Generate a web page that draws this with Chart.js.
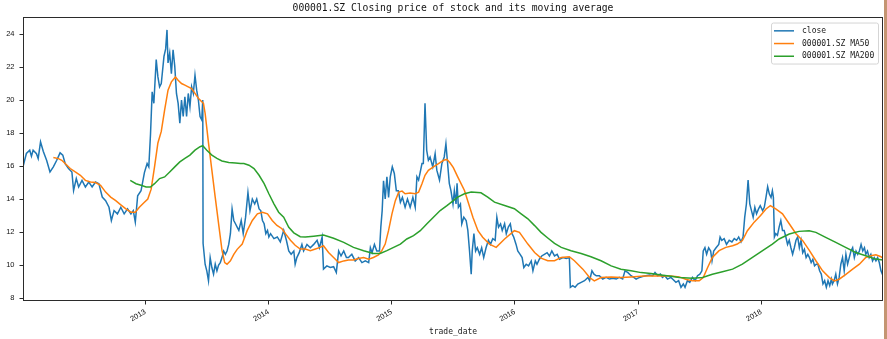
<!DOCTYPE html>
<html>
<head>
<meta charset="utf-8">
<title>000001.SZ close and moving averages</title>
<script src="https://cdn.jsdelivr.net/npm/chart.js@4.4.1/dist/chart.umd.min.js"></script>
<style>
  html, body { margin: 0; padding: 0; background: #fff; }
  .wrap { display: flex; width: 887px; height: 339px; }
  .edge { width: 3px; height: 339px; background: #c49572; }
</style>
</head>
<body>
<div class="wrap">
  <canvas id="price-chart" width="884" height="339"></canvas>
  <div class="edge"></div>
</div>
<script>
// daily close, sampled
const closeDates = [
  '2012-01-04','2012-01-14','2012-01-24','2012-01-29','2012-02-03','2012-02-13','2012-02-18','2012-02-25','2012-03-04','2012-03-14',
  '2012-03-24','2012-04-03','2012-04-13','2012-04-23','2012-05-01','2012-05-08','2012-05-18','2012-05-28','2012-06-02','2012-06-10',
  '2012-06-17','2012-06-27','2012-07-07','2012-07-17','2012-07-27','2012-08-06','2012-08-16','2012-08-26','2012-09-05','2012-09-15',
  '2012-09-22','2012-09-30','2012-10-10','2012-10-20','2012-10-30','2012-11-09','2012-11-19','2012-11-26','2012-12-02','2012-12-09',
  '2012-12-19','2012-12-29',
  '2013-01-06','2013-01-11','2013-01-16','2013-01-21','2013-01-26','2013-02-02','2013-02-07','2013-02-12','2013-02-17','2013-02-25',
  '2013-03-02','2013-03-06','2013-03-09','2013-03-14','2013-03-19','2013-03-24','2013-03-29','2013-04-03','2013-04-08','2013-04-13',
  '2013-04-18','2013-04-23','2013-04-28','2013-05-03','2013-05-08','2013-05-13','2013-05-18','2013-05-23','2013-05-28','2013-06-02',
  '2013-06-07','2013-06-12','2013-06-17','2013-06-20','2013-06-21','2013-06-27','2013-07-02','2013-07-07','2013-07-12','2013-07-17',
  '2013-07-22','2013-07-27','2013-08-01','2013-08-06','2013-08-11','2013-08-16','2013-08-21','2013-08-26','2013-08-31','2013-09-05',
  '2013-09-10','2013-09-15','2013-09-20','2013-09-25','2013-09-30','2013-10-05','2013-10-12','2013-10-18','2013-10-25','2013-11-01',
  '2013-11-07','2013-11-14','2013-11-21','2013-11-27','2013-12-04','2013-12-09','2013-12-14','2013-12-19','2013-12-24','2013-12-29',
  '2014-01-02','2014-01-07','2014-01-17','2014-01-27','2014-02-05','2014-02-15','2014-02-23','2014-03-02','2014-03-09','2014-03-17',
  '2014-03-21','2014-03-26','2014-04-02','2014-04-10','2014-04-15','2014-04-25','2014-05-05','2014-05-15','2014-05-25','2014-06-01',
  '2014-06-09','2014-06-13','2014-06-23','2014-07-03','2014-07-13','2014-07-21','2014-07-28','2014-08-04','2014-08-12','2014-08-20',
  '2014-08-26','2014-09-05','2014-09-15','2014-09-25','2014-10-05','2014-10-15','2014-10-25','2014-10-30','2014-11-04','2014-11-11',
  '2014-11-18','2014-11-26','2014-11-30','2014-12-04','2014-12-08','2014-12-13','2014-12-18','2014-12-23','2014-12-28',
  '2015-01-03','2015-01-09','2015-01-15','2015-01-21','2015-01-27','2015-02-02','2015-02-10','2015-02-17','2015-02-25','2015-03-05',
  '2015-03-12','2015-03-17','2015-03-22','2015-03-27','2015-04-01','2015-04-05','2015-04-10','2015-04-15','2015-04-20','2015-04-25',
  '2015-05-03','2015-05-10','2015-05-15','2015-05-23','2015-05-30','2015-06-06','2015-06-11','2015-06-16','2015-06-21','2015-06-26',
  '2015-07-02','2015-07-06','2015-07-11','2015-07-14','2015-07-18','2015-07-24','2015-07-28','2015-08-03','2015-08-10','2015-08-15',
  '2015-08-20','2015-08-25','2015-08-28','2015-09-02','2015-09-07','2015-09-12','2015-09-19','2015-09-25','2015-10-01','2015-10-08',
  '2015-10-15','2015-10-21','2015-10-28','2015-11-04','2015-11-09','2015-11-14','2015-11-20','2015-11-25','2015-12-02','2015-12-07',
  '2015-12-13','2015-12-19','2015-12-24','2015-12-29',
  '2016-01-05','2016-01-10','2016-01-17','2016-01-23','2016-01-28','2016-02-04','2016-02-11','2016-02-19','2016-02-24','2016-03-02',
  '2016-03-07','2016-03-14','2016-03-21','2016-03-29','2016-04-06','2016-04-13','2016-04-20','2016-04-28','2016-05-06','2016-05-13',
  '2016-05-23','2016-06-02','2016-06-11','2016-06-14','2016-06-21','2016-06-28','2016-07-06','2016-07-16','2016-07-26','2016-08-05',
  '2016-08-10','2016-08-17','2016-08-23','2016-08-30','2016-09-08','2016-09-18','2016-09-28','2016-10-08','2016-10-18','2016-10-28',
  '2016-11-06','2016-11-16','2016-11-23','2016-12-01','2016-12-11','2016-12-19','2016-12-26',
  '2017-01-05','2017-01-14','2017-01-24','2017-02-03','2017-02-13','2017-02-20','2017-02-28','2017-03-08','2017-03-14','2017-03-21',
  '2017-03-29','2017-04-08','2017-04-13','2017-04-23','2017-05-01','2017-05-08','2017-05-15','2017-05-20','2017-05-27','2017-06-03',
  '2017-06-11','2017-06-19','2017-06-26','2017-07-03','2017-07-09','2017-07-13','2017-07-18','2017-07-23','2017-07-29','2017-08-04',
  '2017-08-08','2017-08-13','2017-08-20','2017-08-28','2017-09-01','2017-09-06','2017-09-13','2017-09-20','2017-09-28','2017-10-06',
  '2017-10-13','2017-10-20','2017-10-26','2017-11-02','2017-11-08','2017-11-13','2017-11-18','2017-11-23','2017-11-28','2017-12-03',
  '2017-12-08','2017-12-13','2017-12-18','2017-12-24','2017-12-29',
  '2018-01-05','2018-01-10','2018-01-15','2018-01-20','2018-01-25','2018-01-30','2018-02-03','2018-02-06','2018-02-09','2018-02-13',
  '2018-02-18','2018-02-23','2018-02-28','2018-03-05','2018-03-10','2018-03-15','2018-03-20','2018-03-25','2018-03-30','2018-04-04',
  '2018-04-09','2018-04-14','2018-04-19','2018-04-24','2018-04-29','2018-05-04','2018-05-09','2018-05-14','2018-05-19','2018-05-24',
  '2018-05-29','2018-06-03','2018-06-08','2018-06-13','2018-06-18','2018-06-23','2018-06-28','2018-07-03','2018-07-08','2018-07-13',
  '2018-07-18','2018-07-23','2018-07-28','2018-07-31','2018-08-05','2018-08-10','2018-08-15','2018-08-20','2018-08-25','2018-08-30',
  '2018-09-04','2018-09-09','2018-09-14','2018-09-19','2018-09-24','2018-09-29','2018-10-04','2018-10-09','2018-10-14','2018-10-19',
  '2018-10-24','2018-10-29','2018-11-03','2018-11-07','2018-11-12','2018-11-17','2018-11-22','2018-11-27','2018-12-02','2018-12-07',
  '2018-12-12','2018-12-17','2018-12-22','2018-12-28'
];
const closeValues = [
  15.95,16.76,16.96,16.6,16.96,16.75,16.45,17.47,16.9,16.35,
  15.64,15.95,16.35,16.8,16.66,16.15,15.85,15.64,14.52,15.24,
  14.73,15.13,14.73,15.03,14.73,15.03,14.93,14.12,13.9,13.5,
  12.7,13.3,13.1,13.5,13.1,13.4,13.1,13.3,12.6,14.2,
  14.5,15.6,
  16.15,15.95,17.9,20.5,19.8,22.45,21.4,20.8,21.0,22.65,
  23.1,24.25,22.25,22.85,21.6,23.05,22.05,20.4,19.8,18.6,
  20.0,19.0,20.2,19.0,20.4,19.6,20.8,20.4,21.5,20.6,
  20.0,19.0,18.8,20.0,11.3,10.05,9.65,9.05,10.45,9.85,
  9.45,10.05,9.65,10.0,10.15,10.45,10.85,10.65,10.85,11.25,
  11.9,13.4,12.7,12.5,12.3,12.1,12.7,11.9,12.9,14.4,
  13.3,14.0,13.7,14.0,13.4,13.3,12.7,12.5,11.9,12.1,
  11.7,11.9,11.6,11.7,11.4,12.1,11.5,10.85,10.65,10.85,
  10.05,10.45,10.75,11.25,10.85,11.25,11.05,11.25,11.5,11.05,
  11.7,9.75,9.95,9.85,9.9,9.55,10.85,10.55,10.85,10.45,
  10.45,10.65,10.25,10.45,10.15,10.25,10.15,11.05,10.75,11.25,
  10.85,10.85,12.3,13.3,15.1,14.0,15.35,14.1,15.35,
  15.95,15.55,14.5,14.5,13.8,14.1,13.5,14.0,13.5,14.1,
  13.5,15.35,15.15,15.65,16.15,16.15,19.8,16.95,16.35,16.55,
  15.95,16.75,15.75,15.15,16.15,16.55,17.35,16.15,14.95,14.5,
  13.7,14.5,13.7,14.95,13.5,13.7,12.5,12.9,12.7,12.1,
  10.85,9.45,10.85,11.9,10.85,11.05,10.65,11.05,10.45,11.05,
  11.5,11.25,11.6,11.5,12.9,12.3,12.5,12.1,12.5,11.9,
  12.3,12.5,11.9,11.7,
  11.25,10.85,10.65,10.45,9.85,10.05,9.95,10.25,9.65,10.25,
  10.05,10.35,10.55,10.65,10.75,10.55,10.85,10.55,10.65,10.35,
  10.45,10.4,10.45,8.65,8.75,8.65,8.85,8.95,9.05,9.25,
  9.05,9.65,9.45,9.35,9.35,9.15,9.25,9.15,9.2,9.15,
  9.25,9.15,9.65,9.55,9.35,9.25,9.15,
  9.25,9.3,9.35,9.4,9.35,9.55,9.35,9.45,9.25,9.35,
  9.15,9.25,9.15,8.95,9.05,8.65,8.85,8.65,9.05,8.95,
  9.25,9.05,9.35,9.45,9.65,10.85,11.05,10.65,11.05,10.85,
  10.25,10.85,11.05,11.25,11.7,11.5,11.6,11.25,11.5,11.4,
  11.6,11.5,11.7,11.4,11.7,12.9,13.7,15.15,13.7,13.3,
  12.9,13.5,13.1,13.4,13.6,
  13.3,13.5,14.1,14.75,14.3,14.1,14.5,14.1,11.7,11.9,
  11.8,12.3,12.7,12.1,12.1,11.7,11.25,11.5,11.05,10.65,
  11.05,11.5,11.7,11.05,11.5,10.75,10.95,10.45,10.65,10.45,
  10.15,10.35,9.95,10.05,10.05,9.65,9.45,8.85,9.05,8.65,
  9.05,8.75,9.15,8.85,9.05,9.45,8.85,9.25,10.05,10.45,
  9.65,10.65,10.05,10.45,10.85,11.05,10.45,10.85,10.65,10.85,
  11.25,10.85,11.05,10.65,10.85,10.45,10.65,10.25,10.45,10.25,
  10.45,10.15,9.65,9.35
];

// 50-day moving average
const ma50Dates = [
  '2012-04-03','2012-04-18','2012-04-28','2012-05-08','2012-05-23','2012-06-07','2012-06-22','2012-07-07','2012-07-22','2012-08-06',
  '2012-08-21','2012-09-05','2012-09-20','2012-10-05','2012-10-20','2012-11-04','2012-11-19','2012-12-02','2012-12-14','2012-12-29',
  '2013-01-08','2013-01-18','2013-01-28','2013-02-07','2013-02-17','2013-02-27','2013-03-09','2013-03-19','2013-03-31','2013-04-08',
  '2013-04-18','2013-04-28','2013-05-08','2013-05-18','2013-05-28','2013-06-07','2013-06-17','2013-06-22','2013-06-27','2013-07-07',
  '2013-07-17','2013-07-27','2013-08-06','2013-08-16','2013-08-24','2013-08-31','2013-09-10','2013-09-20','2013-09-30','2013-10-15',
  '2013-10-30','2013-11-14','2013-11-29','2013-12-14','2013-12-29',
  '2014-01-12','2014-01-26','2014-02-10','2014-02-20','2014-03-07','2014-03-21','2014-04-05','2014-04-20','2014-05-05','2014-05-20',
  '2014-06-03','2014-06-13','2014-06-28','2014-07-13','2014-07-28','2014-08-12','2014-08-26','2014-09-10','2014-09-25','2014-10-10',
  '2014-10-25','2014-11-08','2014-11-23','2014-12-03','2014-12-13','2014-12-23',
  '2015-01-02','2015-01-12','2015-01-22','2015-02-01','2015-02-10','2015-02-25','2015-03-12','2015-03-22','2015-04-01','2015-04-10',
  '2015-04-20','2015-05-05','2015-05-20','2015-06-04','2015-06-14','2015-06-23','2015-07-03','2015-07-16','2015-08-05','2015-08-30',
  '2015-09-14','2015-09-28','2015-10-18','2015-11-07','2015-12-02','2015-12-31',
  '2016-01-15','2016-02-09','2016-02-29','2016-03-19','2016-04-08','2016-04-28','2016-05-18','2016-06-11','2016-06-26','2016-07-21',
  '2016-08-10','2016-08-24','2016-09-13','2016-10-13','2016-11-11','2016-12-11',
  '2017-01-19','2017-02-28','2017-04-08','2017-05-03','2017-05-22','2017-06-11','2017-07-01','2017-07-13','2017-07-26','2017-08-09',
  '2017-08-29','2017-09-18','2017-10-08','2017-10-22','2017-11-06','2017-11-21','2017-12-11','2017-12-30',
  '2018-01-15','2018-01-28','2018-02-13','2018-03-05','2018-03-25','2018-04-14','2018-05-04','2018-05-24','2018-06-12','2018-07-02',
  '2018-07-22','2018-08-06','2018-08-20','2018-09-09','2018-09-29','2018-10-19','2018-11-07','2018-11-22','2018-12-07','2018-12-22',
  '2018-12-28'
];
const ma50Values = [
  16.52,16.45,16.35,16.15,15.85,15.64,15.44,15.13,15.03,15.0,
  14.83,14.42,14.12,13.9,13.65,13.4,13.2,13.2,13.5,13.8,
  14.0,14.6,15.95,17.4,18.1,19.4,20.6,21.1,21.4,21.2,
  21.0,20.9,20.8,20.7,20.4,20.1,19.9,19.8,19.2,17.4,
  15.75,14.1,12.5,10.9,10.15,10.05,10.25,10.65,10.95,11.27,
  12.1,12.7,13.1,13.2,13.1,
  12.7,12.4,12.2,11.9,11.5,11.2,10.97,10.97,10.87,10.97,
  11.07,11.17,10.76,10.46,10.15,10.25,10.3,10.3,10.4,10.46,
  10.36,10.46,10.62,10.87,11.27,12.1,
  13.1,13.9,14.42,14.48,14.32,14.36,14.32,14.42,14.93,15.44,
  15.74,15.95,16.15,16.35,16.4,16.2,15.9,15.34,14.52,12.9,
  12.08,11.68,11.27,11.07,11.58,12.08,
  11.98,11.27,10.76,10.42,10.26,10.26,10.46,10.5,10.26,9.75,
  9.24,9.04,9.24,9.28,9.24,9.28,
  9.34,9.34,9.34,9.28,9.14,9.04,9.04,9.24,9.85,10.46,
  10.87,11.07,11.17,11.27,11.48,12.08,12.6,13.0,
  13.4,13.6,13.4,13.1,12.5,11.9,11.48,10.87,10.26,9.65,
  9.24,9.04,9.14,9.44,9.75,10.05,10.46,10.56,10.62,10.5,
  10.42
];

// 200-day moving average
const ma200Dates = [
  '2012-11-17','2012-12-04','2012-12-19',
  '2013-01-03','2013-01-16','2013-01-28','2013-02-12','2013-02-27','2013-03-14','2013-03-29','2013-04-13','2013-04-28','2013-05-13',
  '2013-05-28','2013-06-12','2013-06-20','2013-07-02','2013-07-17','2013-08-01','2013-08-16','2013-09-05','2013-09-25','2013-10-10',
  '2013-10-20','2013-11-04','2013-11-19','2013-12-04','2013-12-19',
  '2014-01-02','2014-01-17','2014-01-31','2014-02-15','2014-03-02','2014-03-17','2014-04-05','2014-04-20','2014-05-15','2014-06-13',
  '2014-07-13','2014-08-12','2014-09-10','2014-10-10','2014-11-08','2014-11-28','2014-12-18',
  '2015-01-07','2015-01-27','2015-02-15','2015-03-07','2015-03-27','2015-04-15','2015-05-05','2015-05-25','2015-06-14','2015-07-03',
  '2015-07-16','2015-08-05','2015-08-25','2015-09-23','2015-10-13','2015-11-02','2015-12-02','2015-12-31',
  '2016-01-20','2016-02-09','2016-02-29','2016-03-19','2016-04-08','2016-04-28','2016-05-18','2016-06-16','2016-07-16','2016-08-14',
  '2016-09-13','2016-10-13','2016-11-11','2016-12-11',
  '2017-01-10','2017-02-08','2017-03-10','2017-04-08','2017-05-03','2017-06-11','2017-07-11','2017-08-09','2017-09-08','2017-10-08',
  '2017-11-06','2017-12-06',
  '2018-01-05','2018-02-03','2018-02-23','2018-03-25','2018-04-23','2018-05-23','2018-06-12','2018-07-11','2018-08-10','2018-09-08',
  '2018-10-08','2018-11-07','2018-12-06','2018-12-28'
];
const ma200Values = [
  15.13,14.93,14.83,
  14.73,14.73,14.93,15.24,15.34,15.64,15.95,16.25,16.46,16.66,
  16.96,17.17,17.23,16.96,16.66,16.46,16.31,16.21,16.19,16.15,
  16.15,16.05,15.85,15.44,14.93,
  14.32,13.71,13.2,12.9,12.29,11.95,11.72,11.7,11.75,11.82,
  11.62,11.37,11.07,10.87,10.7,10.7,10.87,
  11.07,11.27,11.58,11.78,12.08,12.49,12.9,13.3,13.6,13.9,
  14.12,14.32,14.42,14.38,14.12,13.81,13.61,13.41,
  13.1,12.8,12.39,11.98,11.64,11.31,11.07,10.87,10.7,10.5,
  10.26,9.95,9.75,9.65,
  9.54,9.48,9.4,9.32,9.24,9.2,9.24,9.44,9.59,9.75,
  10.05,10.46,
  10.87,11.27,11.58,11.88,12.04,12.08,11.98,11.68,11.37,11.07,
  10.76,10.56,10.36,10.3
];

const yTicks = [8, 10, 12, 14, 16, 18, 20, 22, 24];
const yearTicks = [2013, 2014, 2015, 2016, 2017, 2018];

const toTime = d => Date.parse(d + 'T00:00:00Z');
const points = (dates, values) => dates.map((d, i) => ({ x: toTime(d), y: values[i] }));

const monoFont = "'DejaVu Sans Mono', 'Liberation Mono', monospace";
const tickFont = { family: "'Liberation Sans', Arial, sans-serif", size: 7.5 };

// spines on all four sides plus the boxed legend in the upper right
const frameAndLegend = {
  id: 'frameAndLegend',
  afterDatasetsDraw(chart) {
    const ctx = chart.ctx;
    const a = chart.chartArea;
    ctx.save();
    ctx.strokeStyle = '#2b2b2b';
    ctx.lineWidth = 1;
    ctx.strokeRect(Math.round(a.left) + 0.5, Math.round(a.top) + 0.5,
      Math.round(a.right - a.left) - 1, Math.round(a.bottom - a.top) - 1);

    const sets = chart.data.datasets;
    const w = 107, h = 41;
    const x = a.right - 5 - w;
    const y = a.top + 5.5;
    ctx.beginPath();
    ctx.roundRect(x + 0.5, y + 0.5, w, h, 2);
    ctx.fillStyle = 'rgba(255,255,255,0.8)';
    ctx.fill();
    ctx.strokeStyle = '#d5d5d5';
    ctx.stroke();

    ctx.font = '8px ' + monoFont;
    ctx.textBaseline = 'middle';
    ctx.textAlign = 'left';
    sets.forEach((ds, i) => {
      const ry = y + 8.3 + i * 12.7;
      ctx.beginPath();
      ctx.moveTo(x + 3, ry);
      ctx.lineTo(x + 23, ry);
      ctx.strokeStyle = ds.borderColor;
      ctx.lineWidth = 1.5;
      ctx.stroke();
      ctx.fillStyle = '#1a1a1a';
      ctx.fillText(ds.label, x + 31, ry);
    });
    ctx.restore();
  }
};

new Chart(document.getElementById('price-chart'), {
  type: 'line',
  data: {
    datasets: [
      { label: 'close', data: points(closeDates, closeValues), borderColor: '#1f77b4', order: 3 },
      { label: '000001.SZ MA50', data: points(ma50Dates, ma50Values), borderColor: '#ff7f0e', order: 2 },
      { label: '000001.SZ MA200', data: points(ma200Dates, ma200Values), borderColor: '#2ca02c', order: 1 }
    ]
  },
  options: {
    responsive: false,
    animation: false,
    parsing: false,
    layout: { padding: { left: 0, right: 1, top: 0, bottom: 0 } },
    elements: {
      point: { radius: 0 },
      line: { borderWidth: 1.5, tension: 0, fill: false }
    },
    plugins: {
      legend: { display: false },
      tooltip: { enabled: false },
      title: {
        display: true,
        text: '000001.SZ Closing price of stock and its moving average',
        fullSize: false,
        color: '#111',
        font: { family: monoFont, size: 9.7, weight: 'normal' },
        padding: { top: 2.2, bottom: 3.2 }
      }
    },
    scales: {
      x: {
        type: 'linear',
        min: toTime(closeDates[0]),
        max: toTime(closeDates[closeDates.length - 1]),
        afterBuildTicks: s => { s.ticks = yearTicks.map(yr => ({ value: Date.UTC(yr, 0, 1) })); },
        afterFit: s => { s.height = 38; },
        border: { display: false },
        grid: { drawOnChartArea: false, drawTicks: true, tickLength: 3.5, color: '#2b2b2b' },
        ticks: {
          autoSkip: false,
          minRotation: 30,
          maxRotation: 30,
          padding: 3,
          color: '#111',
          font: tickFont,
          callback: v => String(new Date(v).getUTCFullYear())
        },
        title: {
          display: true,
          text: 'trade_date',
          color: '#1a1a1a',
          font: { family: monoFont, size: 8 },
          padding: { top: 0, bottom: 2.5 }
        }
      },
      y: {
        min: 7.82,
        max: 25.03,
        afterBuildTicks: s => { s.ticks = yTicks.map(v => ({ value: v })); },
        afterFit: s => { s.width = 23; },
        border: { display: false },
        grid: { drawOnChartArea: false, drawTicks: true, tickLength: 3.5, color: '#2b2b2b' },
        ticks: { padding: 5, color: '#111', font: tickFont }
      }
    }
  },
  plugins: [frameAndLegend]
});
</script>
</body>
</html>
